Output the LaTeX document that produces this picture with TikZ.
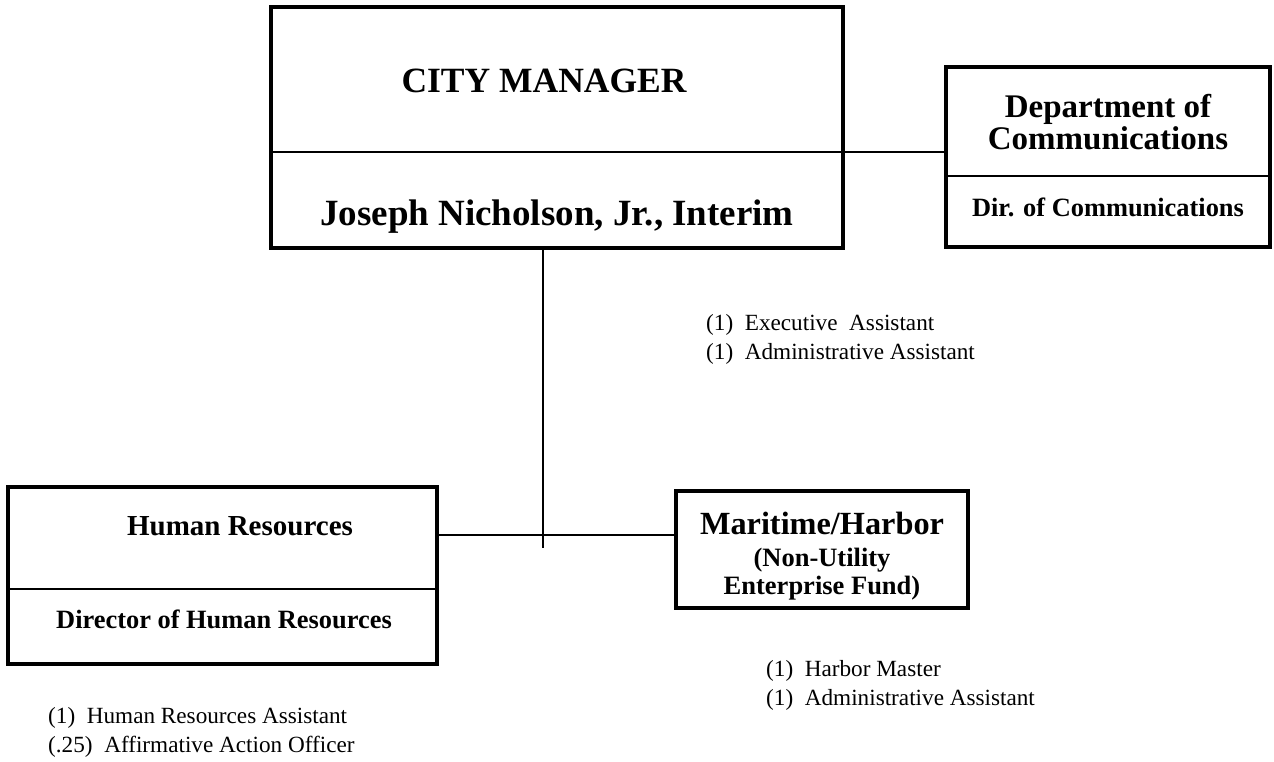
\documentclass[tikz,border=0pt]{standalone}
\usepackage{fontspec}
\setmainfont{Liberation Serif}
\begin{document}
\begin{tikzpicture}[x=1pt,y=-1pt,
  box/.style={draw,line width=3.2pt,minimum width=#1,inner sep=0pt,outer sep=0pt},
  divider/.style={line width=2.4pt},
  link/.style={line width=1.6pt},
  cmtitle/.style={font=\bfseries\fontsize{35.5}{40}\selectfont,anchor=base,inner sep=0pt},
  holdername/.style={font=\bfseries\fontsize{37}{42}\selectfont,anchor=base,inner sep=0pt},
  depttitle/.style={font=\bfseries\fontsize{33}{37}\selectfont,anchor=base,inner sep=0pt},
  subttl/.style={font=\bfseries\fontsize{26.4}{30}\selectfont,anchor=base,inner sep=0pt},
  staff/.style={font=\fontsize{23.2}{29}\selectfont,anchor=base west,inner sep=0pt,align=left}]
\useasboundingbox (0,0) rectangle (1274,761);

% boxes
\node[box=572pt,minimum height=241pt] (cm) at (557,127.5) {};
\node[box=324pt,minimum height=180pt] (dept) at (1108,157) {};
\node[box=429pt,minimum height=177pt] (hr) at (222.5,575.5) {};
\node[box=292pt,minimum height=117pt,line width=4pt] (mar) at (822,549.5) {};

% section dividers inside boxes
\coordinate (cmdiv) at (557,152);
\coordinate (deptdiv) at (1108,176);
\coordinate (hrdiv) at (222,589);
\draw[divider] (cm.west |- cmdiv) -- (cm.east |- cmdiv);
\draw[divider] (dept.west |- deptdiv) -- (dept.east |- deptdiv);
\draw[divider] (hr.west |- hrdiv) -- (hr.east |- hrdiv);

% connectors
\coordinate (trunk) at (543,548);
\coordinate (bus) at (543,535);
\draw[link] (cm.south -| trunk) -- (trunk);
\draw[link] (hr.east |- bus) -- (mar.west |- bus);
\draw[link] (cm.east |- cmdiv) -- (dept.west |- cmdiv);

% box texts
\node[cmtitle] (cmt) at (544,92) {CITY MANAGER};
\node[holdername] (cmn) at (557,225) {Joseph Nicholson, Jr., Interim};
\node[depttitle] (dt1) at (1108,117) {Department of};
\node[depttitle] (dt2) at (1108,149) {Communications};
\node[subttl] (dd) at (1108,216) {Dir. of Communications};
\node[font=\bfseries\fontsize{29}{33}\selectfont,anchor=base,inner sep=0pt] (hrt) at (240,535) {Human Resources};
\node[subttl] (hrd) at (224,628) {Director of Human Resources};
\node[font=\bfseries\fontsize{32.3}{36}\selectfont,anchor=base,inner sep=0pt] (mt) at (822,534) {Maritime/Harbor};
\node[font=\bfseries\fontsize{26.5}{30}\selectfont,anchor=base,inner sep=0pt] (mt2) at (822,566) {(Non-Utility};
\node[font=\bfseries\fontsize{26.5}{30}\selectfont,anchor=base,inner sep=0pt] (mt3) at (822,594) {Enterprise Fund)};

% staff lists (anchored on the baseline of their last line)
\node[staff] (exec) at (706,359) {(1)\ \ Executive\ \ Assistant\\(1)\ \ Administrative Assistant};
\node[staff] (harb) at (766,705) {(1)\ \ Harbor Master\\(1)\ \ Administrative Assistant};
\node[staff] (hrs) at (48,752) {(1)\ \ Human Resources Assistant\\(.25)\ \ Affirmative Action Officer};
\end{tikzpicture}
\end{document}
